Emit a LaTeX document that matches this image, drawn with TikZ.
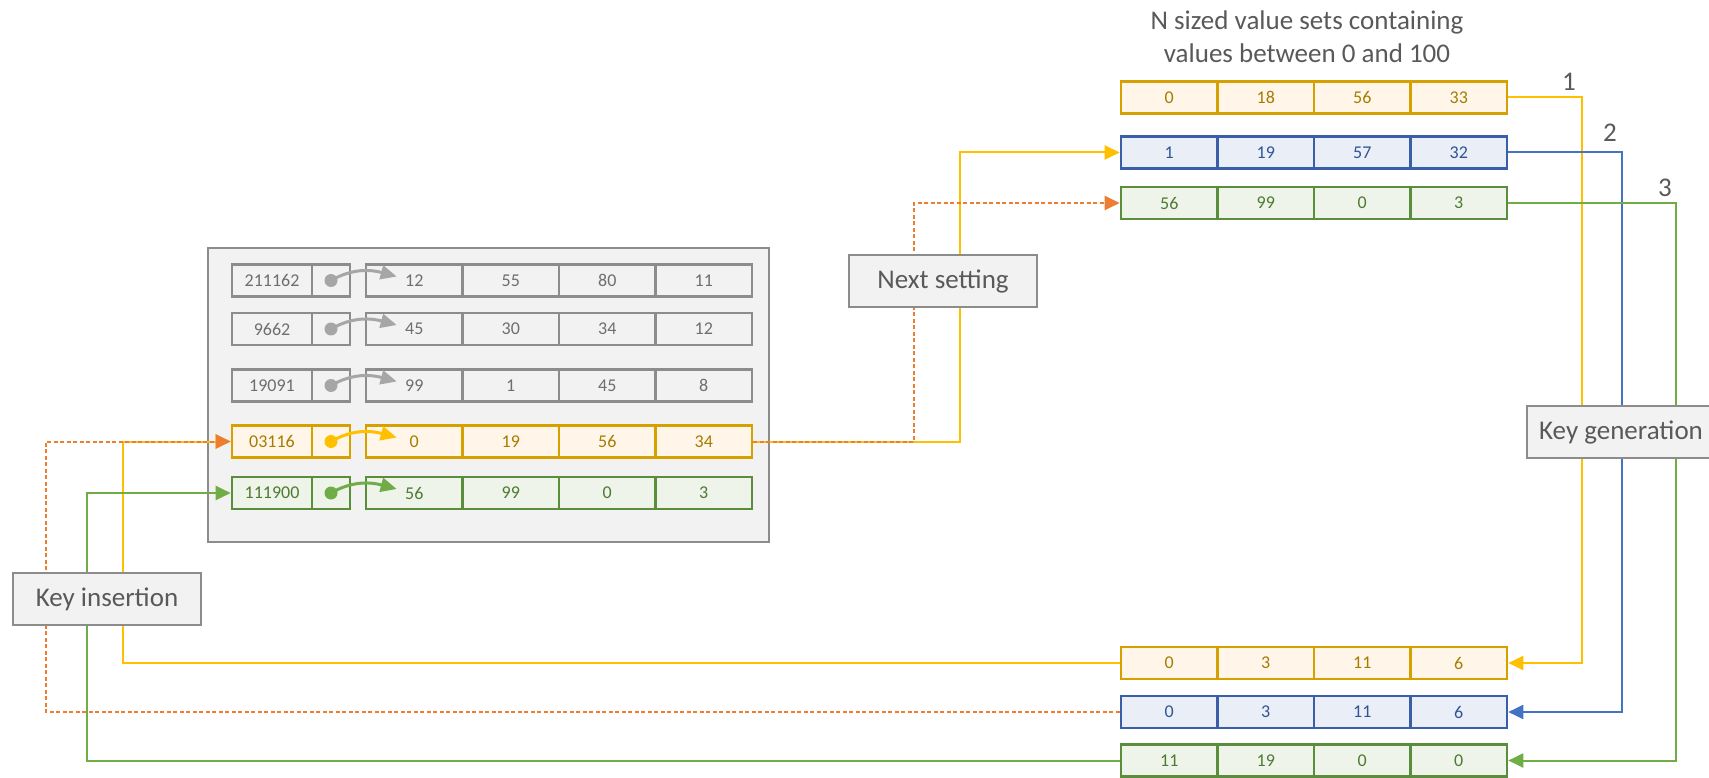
\documentclass[tikz,border=0pt]{standalone}
\usepackage{fontspec}
\setmainfont{Carlito}
\usetikzlibrary{arrows.meta}

\definecolor{gryline}{HTML}{8C8C8C}
\definecolor{gryfill}{HTML}{F2F2F2}
\definecolor{grytext}{HTML}{6E6E6E}
\definecolor{lbltext}{HTML}{595959}
\definecolor{gldline}{HTML}{D6A100}
\definecolor{gldfill}{HTML}{FFF6E9}
\definecolor{gldtext}{HTML}{A67C00}
\definecolor{bluline}{HTML}{3A5FA8}
\definecolor{blufill}{HTML}{EAEEF6}
\definecolor{blutext}{HTML}{2F5597}
\definecolor{grnline}{HTML}{5B8E3C}
\definecolor{grnfill}{HTML}{EEF4EA}
\definecolor{grntext}{HTML}{4F7A31}
\definecolor{cyel}{HTML}{FFC000}
\definecolor{cblu}{HTML}{4472C4}
\definecolor{cgrn}{HTML}{70AD47}
\definecolor{corg}{HTML}{ED7D31}
\definecolor{cgry}{HTML}{A6A6A6}

\begin{document}
\begin{tikzpicture}[x=1pt,y=-1pt,line join=miter,
  cell/.style={draw,line width=2.6pt,minimum width=96.5pt,minimum height=32pt,inner sep=0pt,font=\fontsize{18}{20}\selectfont},
  gry/.style={draw=gryline,fill=gryfill,text=grytext},
  gld/.style={draw=gldline,fill=gldfill,text=gldtext},
  blu/.style={draw=bluline,fill=blufill,text=blutext},
  grn/.style={draw=grnline,fill=grnfill,text=grntext},
  box/.style={draw=gryline,fill=gryfill,line width=2.6pt,minimum width=188pt,minimum height=52pt,inner sep=0pt,text=lbltext,font=\fontsize{27}{33}\selectfont},
  lbl/.style={text=lbltext,inner sep=0pt,font=\fontsize{27}{33}\selectfont},
  link/.style={line width=2pt,-{Triangle[length=15pt,width=14pt]}},
  ptr/.style={line width=3pt,-{Triangle[length=16pt,width=14pt]}},
  dash line/.style={dash pattern=on 4pt off 2.5pt}]
  \useasboundingbox (0,0) rectangle (1709,778);
  \def\cw{96.5}

  % table of stored keys
  \node[draw=gryline,fill=gryfill,line width=2.6pt,minimum width=561pt,minimum height=294pt] (panel) at (488.5,395) {};
  \foreach \nm/\st/\pc/\y/\k/\vals in {r1/gry/cgry/280.5/211162/{12,55,80,11},
      r2/gry/cgry/329/9662/{45,30,34,12}, r3/gry/cgry/385.5/19091/{99,1,45,8},
      r4/gld/cyel/441.5/03116/{0,19,56,34}, r5/grn/cgrn/493/111900/{56,99,0,3}}{
    \node[cell,\st,minimum width=80pt] (\nm-k) at (272,\y) {\k};
    \node[cell,\st,minimum width=38pt] (\nm-p) at (331,\y) {};
    \foreach \v [count=\i] in \vals
      \node[cell,\st] (\nm-\i) at ({366+(\i-0.5)*\cw},\y) {\v};
    \fill[\pc] (\nm-p) circle (6.5pt);
    \draw[ptr,\pc] (\nm-p.center) to[out=30,in=165] ([xshift=32pt,yshift=4pt]\nm-1.west);
  }

  % value sets on the right
  \foreach \nm/\st/\y/\vals in {a/gld/97.5/{0,18,56,33}, b/blu/152.5/{1,19,57,32},
      c/grn/203/{56,99,0,3}, d/gld/663/{0,3,11,6}, e/blu/712/{0,3,11,6},
      f/grn/760.5/{11,19,0,0}}
    \foreach \v [count=\i] in \vals
      \node[cell,\st] (\nm-\i) at ({1121+(\i-0.5)*\cw},\y) {\v};

  \node[lbl,align=center] (title) at (1307,36.5) {N sized value sets containing\\values between 0 and 100};
  \node[lbl] (n1) at (1569,82) {1};
  \node[lbl] (n2) at (1610,133) {2};
  \node[lbl] (n3) at (1665,188) {3};

  % key generation
  \draw[link,cyel] (a-4.east) -| (1582,400) |- (d-4.east);
  \draw[link,cblu] (b-4.east) -| (1622,400) |- (e-4.east);
  \draw[link,cgrn] (c-4.east) -| (1676,400) |- (f-4.east);
  % key insertion
  \draw[link,cyel] (d-1.west) -| (123,550) |- (r4-k.west);
  \draw[link,cgrn] (f-1.west) -| (87,550) |- (r5-k.west);
  \draw[link,corg,dash line] (e-1.west) -| (46,550) |- (r4-k.west);
  % next setting
  \draw[link,cyel] (r4-4.east) -| (960,300) |- (b-1.west);
  \draw[link,corg,dash line] (r4-4.east) -| (914,300) |- (c-1.west);

  \node[box] (next) at (943,281) {Next setting};
  \node[box] (ins) at (107,599) {Key insertion};
  \node[box] (gen) at (1621,432) {Key generation};
\end{tikzpicture}
\end{document}
